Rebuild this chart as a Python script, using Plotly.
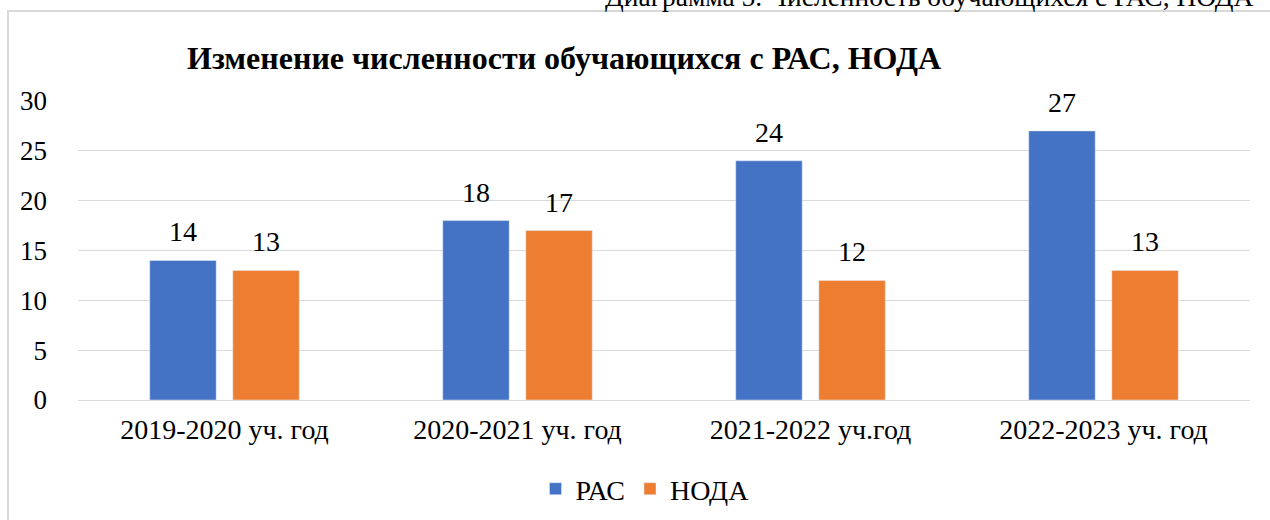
import plotly.graph_objects as go

categories = ["2019-2020 уч. год", "2020-2021 уч. год", "2021-2022 уч.год", "2022-2023 уч. год"]
pac = [14, 18, 24, 27]
noda = [13, 17, 12, 13]
series_names = ["РАС", "НОДА"]
colors = ["#4472C4", "#ED7D31"]
title_text = "Изменение численности обучающихся с РАС, НОДА"
caption_text = "Диаграмма 5. Численность обучающихся с РАС, НОДА"
yticks = [0, 5, 10, 15, 20, 25, 30]

FONT = "Liberation Serif, Times New Roman, serif"
FS = 28

W, H = 1270, 520
L, R, T, B = 78, 20, 101, 120
pw = W - L - R
ph = H - T - B
BARGAP, GROUPGAP = 0.433, 0.2

def px(x):
    return (x - L) / pw

def py(y):
    return (H - B - y) / ph

fig = go.Figure()
for name, vals, col in zip(series_names, [pac, noda], colors):
    fig.add_trace(go.Bar(x=categories, y=vals, name=name, marker_color=col))

# data labels above bars (offset to each bar's slot within the group)
cat_w = pw / len(categories)
slot = cat_w * (1 - BARGAP) / 2
annotations = []
for k, vals in enumerate([pac, noda]):
    shift = (k - 0.5) * slot
    for c, v in zip(categories, vals):
        annotations.append(dict(x=c, y=v, xref="x", yref="y", text=str(v), showarrow=False,
                                xshift=shift, yshift=11, yanchor="bottom", xanchor="center",
                                font=dict(family=FONT, size=FS, color="#000000")))
annotations.append(dict(text=caption_text, xref="paper", yref="paper",
                        x=px(1255), xanchor="right", y=py(-4), yanchor="middle",
                        showarrow=False, font=dict(family=FONT, size=27.5, color="#000000")))

fig.update_layout(
    width=W, height=H,
    margin=dict(l=L, r=R, t=T, b=B, autoexpand=False),
    paper_bgcolor="white", plot_bgcolor="white",
    barmode="group", bargap=BARGAP, bargroupgap=GROUPGAP,
    font=dict(family=FONT, size=FS, color="#000000"),
    title=dict(text="<b>" + title_text + "</b>", x=187 / W, xanchor="left",
               y=1 - 58 / H, yanchor="middle", yref="container",
               font=dict(family=FONT, size=32, color="#000000")),
    showlegend=True,
    legend=dict(orientation="h", x=645 / W, xanchor="center", xref="container",
                y=1 - 489 / H, yanchor="middle", yref="container",
                font=dict(family=FONT, size=FS, color="#000000"),
                itemwidth=30, tracegroupgap=0, bgcolor="rgba(0,0,0,0)"),
    xaxis=dict(showgrid=False, showline=False, ticks="", tickfont=dict(family=FONT, size=FS),
               ticklabelstandoff=10),
    yaxis=dict(range=[0, 30], tickvals=yticks, showgrid=True, gridcolor="#D9D9D9", gridwidth=1,
               zeroline=True, zerolinecolor="#D9D9D9", zerolinewidth=1, showline=False,
               ticks="", tickfont=dict(family=FONT, size=27), ticklabelstandoff=30),
    shapes=[dict(type="rect", xref="paper", yref="paper",
                 x0=px(8), x1=px(1285), y0=py(535), y1=py(11),
                 line=dict(color="#D9D9D9", width=2), fillcolor="rgba(0,0,0,0)", layer="below")],
    annotations=annotations,
)

fig.write_html("out.html", config={"displayModeBar": False},
               post_script="document.body.style.margin='0';")
